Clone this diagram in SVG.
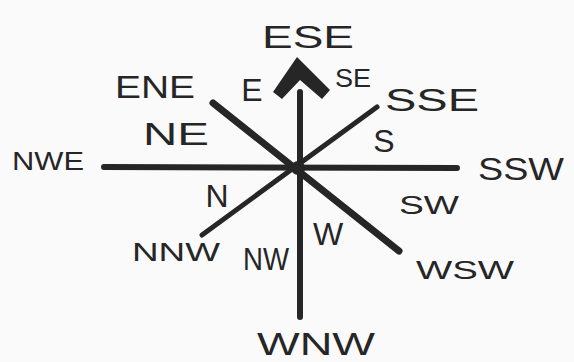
<svg xmlns="http://www.w3.org/2000/svg" width="574" height="362" viewBox="0 0 574 362">
<style>
text{font-family:"Liberation Sans",Arial,sans-serif;fill:#262626;font-size:32px;text-anchor:middle}
.s{font-size:26px}
.t{stroke:#262626;stroke-linecap:round;fill:none}
</style>
<rect width="574" height="362" fill="#fafafa"/>
<g id="connectors">
<line class="t" x1="300" y1="92" x2="300" y2="317" stroke-width="6"/>
<path d="M297 57 L330 90 L322 99 L300 80 L282 99 L273 92 Z" fill="#262626"/>
<line class="t" x1="104" y1="167" x2="457" y2="168" stroke-width="6"/>
<line class="t" x1="213" y1="103" x2="399" y2="251" stroke-width="7"/>
<line class="t" x1="202" y1="235" x2="377" y2="107" stroke-width="5"/>
<circle cx="298" cy="168" r="7" fill="#262626"/>
</g>
<g id="ESE"><text x="308" y="48" font-size="42" textLength="92" lengthAdjust="spacingAndGlyphs">ESE</text></g>
<g id="ENE"><text x="155" y="98" font-size="36" textLength="80" lengthAdjust="spacingAndGlyphs">ENE</text></g>
<g id="E"><text x="252" y="101">E</text></g>
<g id="SE"><text x="353" y="87" class="s" textLength="36" lengthAdjust="spacingAndGlyphs">SE</text></g>
<g id="SSE"><text x="432" y="111" textLength="94" lengthAdjust="spacingAndGlyphs">SSE</text></g>
<g id="NE"><text x="176" y="145" textLength="66" lengthAdjust="spacingAndGlyphs">NE</text></g>
<g id="S"><text x="384" y="152" font-size="30">S</text></g>
<g id="NWE"><text x="48" y="170" class="s" textLength="72" lengthAdjust="spacingAndGlyphs">NWE</text></g>
<g id="SSW"><text x="521" y="180" textLength="86" lengthAdjust="spacingAndGlyphs">SSW</text></g>
<g id="N"><text x="217" y="207" font-size="30">N</text></g>
<g id="SW"><text x="429" y="214" class="s" textLength="60" lengthAdjust="spacingAndGlyphs">SW</text></g>
<g id="W"><text x="328" y="245" font-size="30">W</text></g>
<g id="NNW"><text x="176" y="261" class="s" textLength="88" lengthAdjust="spacingAndGlyphs">NNW</text></g>
<g id="NW"><text x="266" y="270" font-size="22" textLength="46" lengthAdjust="spacingAndGlyphs">NW</text></g>
<g id="WSW"><text x="465" y="279" class="s" font-size="24" textLength="98" lengthAdjust="spacingAndGlyphs">WSW</text></g>
<g id="WNW"><text x="316" y="355" font-size="38" textLength="118" lengthAdjust="spacingAndGlyphs">WNW</text></g>
</svg>
